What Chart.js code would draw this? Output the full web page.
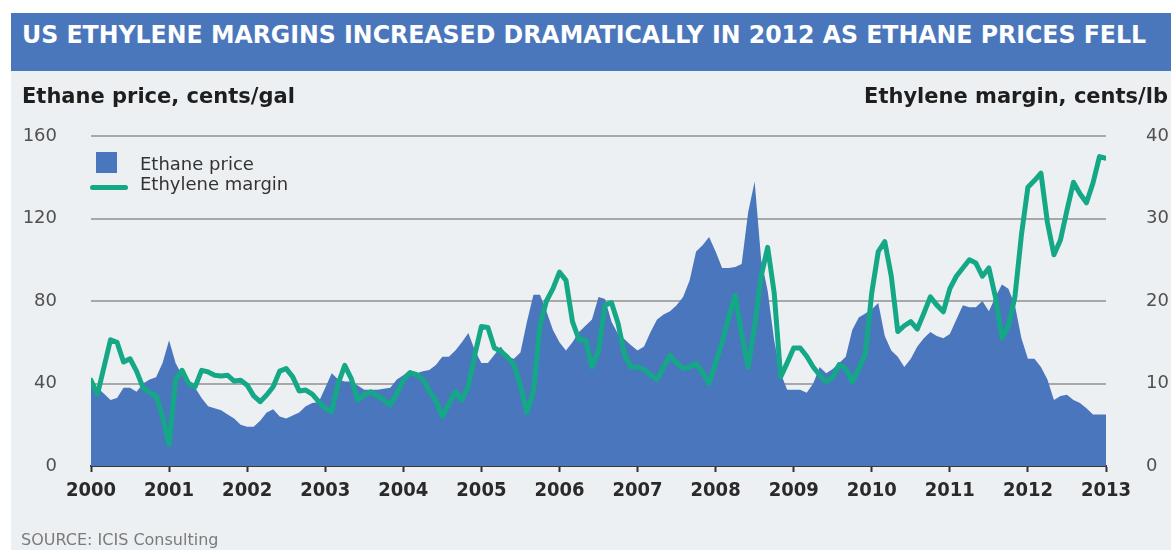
<!DOCTYPE html>
<html>
<head>
<meta charset="utf-8">
<title>US ethylene margins and ethane prices</title>
<script src="https://cdn.jsdelivr.net/npm/chart.js@4/dist/chart.umd.min.js"></script>
<style>
  html, body { margin: 0; padding: 0; background: #ffffff; }
  #wrap { position: relative; width: 1171px; height: 550px; overflow: hidden; font-family: 'DejaVu Sans', sans-serif; }
  #panel { position: absolute; left: 11px; top: 13px; width: 1160px; height: 537px; background: #edf0f3; }
  #band { position: absolute; left: 11px; top: 13px; width: 1160px; height: 58px; background: #4a77bc; }
  #title { position: absolute; left: 22px; top: 22px; font: bold 25px/1 'DejaVu Sans', sans-serif; color: #ffffff;
           white-space: nowrap; transform: scaleX(0.945); transform-origin: 0 0; }
  #chart { position: absolute; left: 0; top: 0; }
  .axis-title { position: absolute; top: 86px; font: bold 21px/1 'DejaVu Sans', sans-serif; color: #1e1e1e; white-space: nowrap; }
  #left-title { left: 22px; }
  #right-title { right: 3px; }
  .legend-text { position: absolute; left: 140px; font: 18px/1 'DejaVu Sans', sans-serif; color: #333333; white-space: nowrap; }
  #swatch-area { position: absolute; left: 96px; top: 152px; width: 21px; height: 21px; background: #4a76be; }
  #swatch-line { position: absolute; left: 90px; top: 185px; width: 38px; height: 5px; border-radius: 3px; background: #14a886; }
  #source { position: absolute; left: 21px; top: 532px; font: 16px/1 'DejaVu Sans', sans-serif; color: #7a7a7a; white-space: nowrap; }
</style>
</head>
<body>
<div id="wrap">
  <div id="panel"></div>
  <div id="band"></div>
  <div id="title">US ETHYLENE MARGINS INCREASED DRAMATICALLY IN 2012 AS ETHANE PRICES FELL</div>
  <canvas id="chart" width="1171" height="550"></canvas>
  <div id="left-title" class="axis-title">Ethane price, cents/gal</div>
  <div id="right-title" class="axis-title">Ethylene margin, cents/lb</div>
  <div id="swatch-area"></div>
  <div class="legend-text" style="top:155px">Ethane price</div>
  <div id="swatch-line"></div>
  <div class="legend-text" style="top:175px">Ethylene margin</div>
  <div id="source">SOURCE: ICIS Consulting</div>
</div>
<script>
// Monthly series, January 2000 to January 2013
const ethanePrice = [
  40, 38, 35, 32, 33, 38, 38, 36, 40, 42, 43, 50,
  61, 50, 44, 42, 38, 33, 29, 28, 27, 25, 23, 20,
  19, 19, 22, 26, 27.5, 24, 23, 24.5, 26, 29, 30.5, 31,
  38, 45, 42, 41, 41, 39, 37, 37, 37, 37.5, 38, 42,
  44, 46.5, 45, 46, 46.5, 49, 53, 53, 56, 60, 64.5, 56,
  50, 50, 54, 58, 53, 52, 55, 70, 83, 83, 75, 66,
  60, 56, 60, 65, 68, 71, 82, 81, 70, 64, 61.5, 58.5,
  56, 58, 65, 71, 73.5, 75, 78, 82, 90, 104, 107, 111,
  104, 96, 96, 96.5, 98, 123, 138, 100, 85, 61, 45, 37,
  37, 37, 35.5, 40, 48, 45, 47, 50, 53, 66, 72, 74,
  76, 79, 63, 56, 53, 48, 52, 58, 62, 65, 63, 62,
  64, 71, 78, 77, 77, 80, 75, 82, 88, 86, 78, 62,
  52, 52, 48, 42, 32, 34, 34.5, 32, 30.5, 28, 25, 25, 25
];

const ethyleneMargin = [
  10.4, 8.7, 12, 15.3, 15, 12.6, 13, 11.5, 9.5, 8.9, 8.5, 6,
  2.6, 10.5, 11.6, 10, 9.6, 11.6, 11.4, 11, 10.9, 11, 10.3, 10.4,
  9.8, 8.5, 7.8, 8.6, 9.6, 11.5, 11.8, 10.8, 9.1, 9.2, 8.7, 7.8,
  7, 6.6, 10, 12.2, 10.6, 8, 8.6, 9, 8.5, 8, 7.4, 8.8,
  10.4, 11.3, 11.1, 10.5, 9.1, 7.9, 6, 7.5, 9, 8, 9.7, 13.5,
  16.9, 16.8, 14.3, 13.9, 13.2, 12.3, 9.8, 6.5, 9, 17, 20, 21.5,
  23.5, 22.5, 17.5, 15.3, 15.3, 12, 14, 19.5, 19.8, 17.3, 13.5, 12,
  12, 11.7, 11, 10.5, 12, 13.4, 12.5, 11.8, 12, 12.4, 11.3, 10,
  12.5, 15, 18, 20.7, 16, 12, 17, 23, 26.5, 21, 10.8, 12.5,
  14.3, 14.3, 13.3, 12, 11, 10.2, 10.8, 12.3, 11.8, 10.2, 11.8, 13.5,
  21, 26, 27.2, 23, 16.3, 17, 17.5, 16.6, 18.5, 20.5, 19.5, 18.7,
  21.5, 23, 24, 25, 24.6, 23, 24, 20.5, 15.5, 17, 20.5, 28,
  33.8, 34.6, 35.5, 29.5, 25.6, 27.4, 31, 34.4, 33, 31.9, 34.3, 37.5, 37.3
];

const yearLabels = ['2000', '2001', '2002', '2003', '2004', '2005', '2006',
                    '2007', '2008', '2009', '2010', '2011', '2012', '2013'];
const priceTicks = [0, 40, 80, 120, 160];
const marginTicks = [0, 10, 20, 30, 40];

const firstYear = Number(yearLabels[0]);
const lastYear = Number(yearLabels[yearLabels.length - 1]);
// x position of each monthly value, in years
const monthPositions = ethanePrice.map((_, i) => firstYear + i / 12);

const AREA_BLUE = '#4a76be';
const LINE_GREEN = '#14a886';

new Chart(document.getElementById('chart'), {
  type: 'line',
  data: {
    labels: monthPositions,
    datasets: [
      {
        label: 'Ethylene margin',
        data: ethyleneMargin,
        yAxisID: 'y1',
        borderColor: LINE_GREEN,
        borderWidth: 5,
        borderJoinStyle: 'round',
        borderCapStyle: 'round',
        pointRadius: 0,
        fill: false,
        tension: 0
      },
      {
        label: 'Ethane price',
        data: ethanePrice,
        yAxisID: 'y',
        backgroundColor: AREA_BLUE,
        borderColor: AREA_BLUE,
        borderWidth: 0,
        pointRadius: 0,
        fill: 'origin',
        tension: 0
      }
    ]
  },
  options: {
    responsive: false,
    animation: false,
    events: [],
    layout: { padding: { top: 136, left: 0, right: 0, bottom: 0 } },
    plugins: { legend: { display: false }, tooltip: { enabled: false } },
    scales: {
      x: {
        type: 'linear',
        min: firstYear,
        max: lastYear,
        afterBuildTicks: s => { s.ticks = yearLabels.map(l => ({ value: Number(l) })); },
        ticks: {
          callback: v => yearLabels[v - firstYear],
          color: '#2a2a2a',
          font: { family: "'DejaVu Sans Condensed', 'Liberation Sans Narrow', 'DejaVu Sans'", size: 20, weight: 'bold' },
          padding: 7,
          maxRotation: 0,
          autoSkip: false
        },
        grid: { drawOnChartArea: false, drawTicks: true, tickLength: 6, tickColor: '#333333', tickWidth: 2 },
        border: { display: true, color: '#3a3a3a', width: 2 },
        afterFit: s => { s.height = 84; }
      },
      y: {
        position: 'left',
        min: 0,
        max: 160,
        afterBuildTicks: s => { s.ticks = priceTicks.map(v => ({ value: v })); },
        ticks: {
          color: '#505050',
          font: { family: "'DejaVu Sans'", size: 18 },
          padding: 34
        },
        grid: {
          color: c => (c.tick && c.tick.value === 0 ? 'rgba(0,0,0,0)' : '#a8a8a8'),
          lineWidth: 2,
          drawTicks: false
        },
        border: { display: false },
        afterFit: s => { s.width = 91; }
      },
      y1: {
        position: 'right',
        min: 0,
        max: 40,
        afterBuildTicks: s => { s.ticks = marginTicks.map(v => ({ value: v })); },
        ticks: {
          color: '#505050',
          font: { family: "'DejaVu Sans'", size: 18 },
          padding: 40
        },
        grid: { drawOnChartArea: false, drawTicks: false },
        border: { display: false },
        afterFit: s => { s.width = 65; }
      }
    }
  }
});
</script>
</body>
</html>
